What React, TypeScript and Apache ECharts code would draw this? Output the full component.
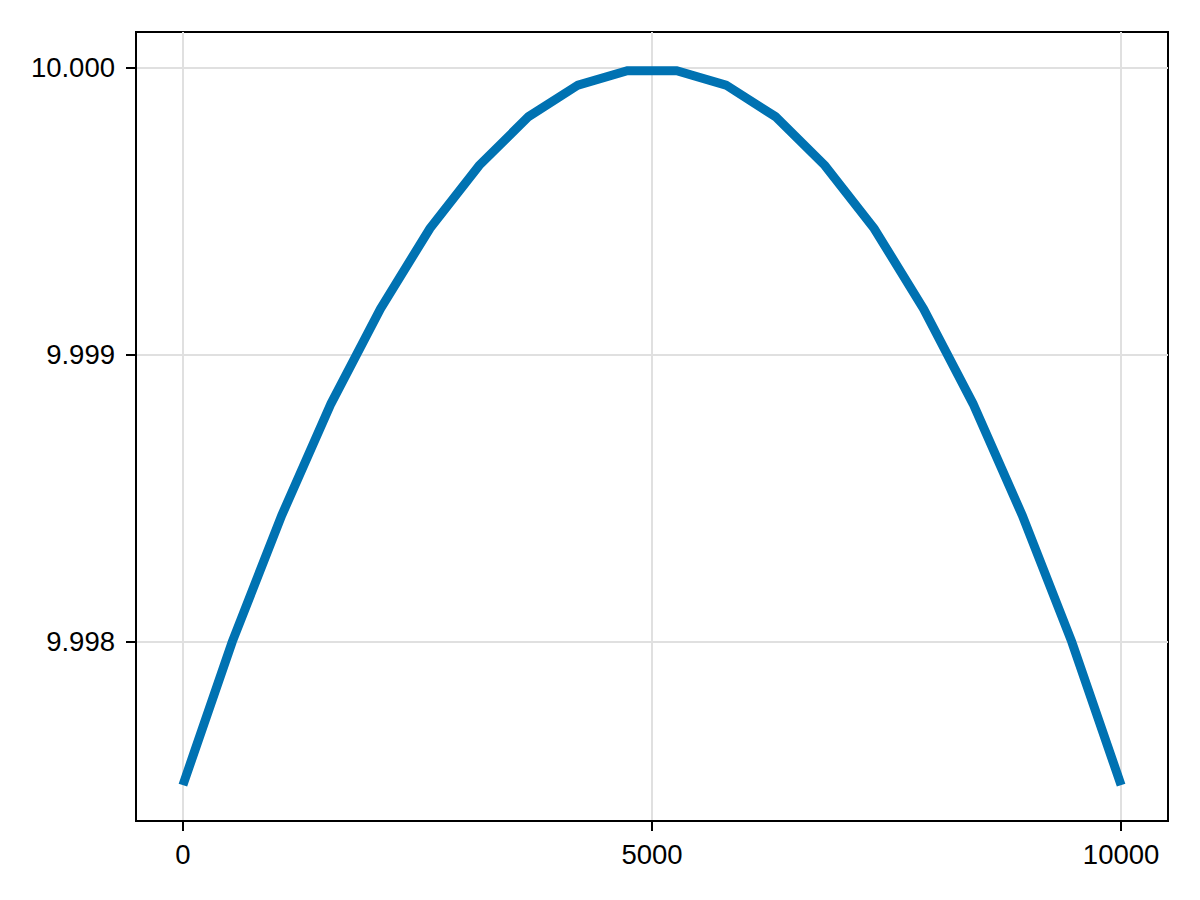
import * as echarts from "echarts";
import { useEffect, useRef } from "react";

// x positions of the 20 samples
const xValues = [
  0, 526, 1053, 1579, 2105, 2632, 3158, 3684, 4211, 4737, 5263, 5789, 6316,
  6842, 7368, 7895, 8421, 8947, 9474, 10000,
];
// y values
const yValues = [
  9.9975, 9.998, 9.99844, 9.99883, 9.99916, 9.99944, 9.99966, 9.99983,
  9.99994, 9.99999, 9.99999, 9.99994, 9.99983, 9.99966, 9.99944, 9.99916,
  9.99883, 9.99844, 9.998, 9.9975,
];
const xTicks = [0, 5000, 10000];
const yTicks = [9.998, 9.999, 10.0];

const FONT = "'Liberation Sans', Arial, Helvetica, sans-serif";

function App() {
  const chartRef = useRef<HTMLDivElement>(null);

  useEffect(() => {
    const chart = echarts.init(chartRef.current, null, { renderer: "svg" });

    const axisCommon = {
      axisLine: { show: true, onZero: false, lineStyle: { color: "#000", width: 2 } },
      axisTick: { show: true, inside: false, length: 10, lineStyle: { color: "#000", width: 2 } },
      splitLine: { show: true, lineStyle: { color: "#e0e0e0", width: 2 } },
    };

    chart.setOption({
      animation: false,
      backgroundColor: "#fff",
      grid: {
        left: 136,
        right: 32,
        top: 32,
        bottom: 79,
        show: true,
        borderColor: "#000",
        borderWidth: 2,
        backgroundColor: "transparent",
      },
      xAxis: {
        type: "value",
        min: -500,
        max: 10500,
        ...axisCommon,
        axisTick: { ...axisCommon.axisTick, customValues: xTicks },
        axisLabel: {
          customValues: xTicks,
          color: "#000",
          fontSize: 27.5,
          fontFamily: FONT,
          margin: 19,
          formatter: (v: number) => String(v),
        },
      },
      yAxis: {
        type: "value",
        min: 9.997375,
        max: 10.000125,
        ...axisCommon,
        axisTick: { ...axisCommon.axisTick, customValues: yTicks },
        axisLabel: {
          customValues: yTicks,
          color: "#000",
          fontSize: 27.5,
          fontFamily: FONT,
          margin: 21,
          formatter: (v: number) => v.toFixed(3),
        },
      },
      series: [
        {
          type: "line",
          data: xValues.map((x, i) => [x, yValues[i]]),
          showSymbol: false,
          symbol: "none",
          lineStyle: { color: "#0072b2", width: 9, cap: "butt", join: "miter" },
          z: 3,
        },
      ],
    });

    return () => {
      chart.dispose();
    };
  }, []);

  return (
    <div
      ref={chartRef}
      style={{ position: "absolute", left: 0, top: 0, width: "1200px", height: "900px" }}
    />
  );
}

export default App;
